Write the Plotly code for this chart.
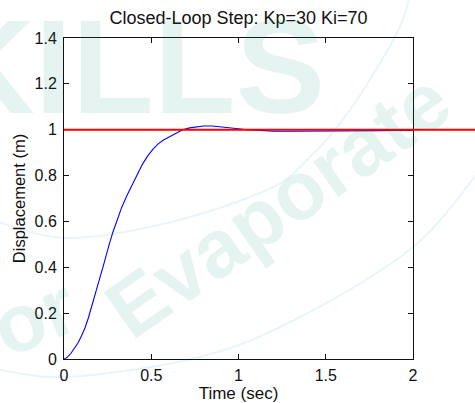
import plotly.graph_objects as go

# Closed-loop step response of the mass-spring-damper with a PI controller
time_s = [0.00, 0.02, 0.04, 0.06, 0.08, 0.10, 0.12, 0.14, 0.16, 0.18,
          0.20, 0.22, 0.24, 0.26, 0.28, 0.30, 0.33, 0.36, 0.39, 0.42,
          0.45, 0.48, 0.51, 0.54, 0.57, 0.60, 0.64, 0.68, 0.72, 0.76,
          0.80, 0.85, 0.90, 0.95, 1.00, 1.05, 1.10, 1.20, 1.30, 1.40,
          1.50, 1.60, 1.70, 1.80, 1.90, 2.00]
displacement_m = [0.000, 0.008, 0.025, 0.045, 0.070, 0.100, 0.135, 0.180, 0.230, 0.290,
                  0.340, 0.392, 0.450, 0.502, 0.553, 0.600, 0.660, 0.712, 0.760, 0.806,
                  0.850, 0.886, 0.915, 0.938, 0.955, 0.967, 0.985, 1.000, 1.008, 1.013,
                  1.016, 1.016, 1.013, 1.008, 1.004, 1.000, 0.997, 0.994, 0.993, 0.993,
                  0.993, 0.994, 0.995, 0.996, 0.997, 0.997]
setpoint_m = 1.0

x_tick_vals = [0, 0.5, 1, 1.5, 2]
x_tick_text = ["0", "0.5", "1", "1.5", "2"]
y_tick_vals = [0, 0.2, 0.4, 0.6, 0.8, 1.0, 1.2, 1.4]
y_tick_text = ["0", "0.2", "0.4", "0.6", "0.8", "1", "1.2", "1.4"]

title_text = "Closed-Loop Step: Kp=30 Ki=70"
x_title = "Time (sec)"
y_title = "Displacement (m)"

# page geometry
W, H = 475, 403
ML, MR, MT, MB = 64, 62, 38, 44
PW, PH = W - ML - MR, H - MT - MB


def to_paper(px, py):
    return (px - ML) / PW, (H - MB - py) / PH


def smooth_path(points):
    """Catmull-Rom curve through page-pixel points, as an SVG path in paper units."""
    pts = [to_paper(*p) for p in points]
    d = "M {:.4f},{:.4f}".format(*pts[0])
    for i in range(len(pts) - 1):
        p0 = pts[i - 1] if i > 0 else pts[i]
        p1, p2 = pts[i], pts[i + 1]
        p3 = pts[i + 2] if i + 2 < len(pts) else pts[i + 1]
        c1 = (p1[0] + (p2[0] - p0[0]) / 6, p1[1] + (p2[1] - p0[1]) / 6)
        c2 = (p2[0] - (p3[0] - p1[0]) / 6, p2[1] - (p3[1] - p1[1]) / 6)
        d += " C {:.4f},{:.4f} {:.4f},{:.4f} {:.4f},{:.4f}".format(*c1, *c2, *p2)
    return d


font_family = "Liberation Sans, Arial, Helvetica, sans-serif"
ink = "#111111"

fig = go.Figure()
fig.add_trace(go.Scatter(
    x=time_s, y=displacement_m, mode="lines",
    line=dict(color="#0000ff", width=1.1),
    showlegend=False, hoverinfo="skip",
))

# background watermark: faint arcs
arc_color = "rgba(0,140,200,0.09)"
upper_arc = [(-5, 221), (67, 238), (167, 223), (267, 190), (307, 160),
             (350, 110), (397, 33), (410, -5)]
lower_arc = [(-5, 369), (67, 377), (200, 357), (300, 317), (413, 247),
             (480, 170)]
shapes = []
for arc in (upper_arc, lower_arc):
    shapes.append(dict(type="path", xref="paper", yref="paper", path=smooth_path(arc),
                       line=dict(color=arc_color, width=2), layer="below"))

# set-point reference line, running out to the page edge
shapes.append(dict(type="line", xref="paper", yref="y", x0=0, x1=1.25,
                   y0=setpoint_m, y1=setpoint_m,
                   line=dict(color="#ff0000", width=2), layer="above"))

mark_color = "rgba(0,150,120,0.10)"
annotations = []
for txt, (px, py), ang, size, (xa, ya) in [
    ("KILLS", (327, 143), 0, 134, ("right", "bottom")),
    ("or", (34, 316), -22, 82, ("center", "middle")),
    ("Evaporate", (278, 205), -35, 82, ("center", "middle")),
]:
    x, y = to_paper(px, py)
    annotations.append(dict(text="<b>" + txt + "</b>", x=x, y=y, xref="paper", yref="paper",
                            showarrow=False, textangle=ang, xanchor=xa, yanchor=ya,
                            font=dict(family=font_family, size=size, color=mark_color)))

axis_common = dict(
    showline=True, linecolor=ink, linewidth=1, mirror="ticks",
    ticks="inside", ticklen=5, tickwidth=1, tickcolor=ink,
    showgrid=False, zeroline=False, automargin=False,
    tickfont=dict(family=font_family, size=16, color=ink),
)

fig.update_layout(
    width=W, height=H, autosize=False,
    margin=dict(l=ML, r=MR, t=MT, b=MB, pad=0),
    paper_bgcolor="white", plot_bgcolor="rgba(0,0,0,0)",
    title=dict(text=title_text, x=(ML + PW / 2) / W, xanchor="center",
               y=1 - 18 / H, yanchor="middle", yref="container", automargin=False,
               font=dict(family=font_family, size=18, color=ink)),
    xaxis=dict(range=[0, 2], tickvals=x_tick_vals, ticktext=x_tick_text,
               ticklabelstandoff=2,
               title=dict(text=x_title, standoff=3,
                          font=dict(family=font_family, size=17, color=ink)),
               **axis_common),
    yaxis=dict(range=[0, 1.4], tickvals=y_tick_vals, ticktext=y_tick_text,
               ticklabelstandoff=3,
               title=dict(text=y_title, standoff=4,
                          font=dict(family=font_family, size=16.5, color=ink)),
               **axis_common),
    shapes=shapes,
    annotations=annotations,
)

fig.write_html("out.html")
